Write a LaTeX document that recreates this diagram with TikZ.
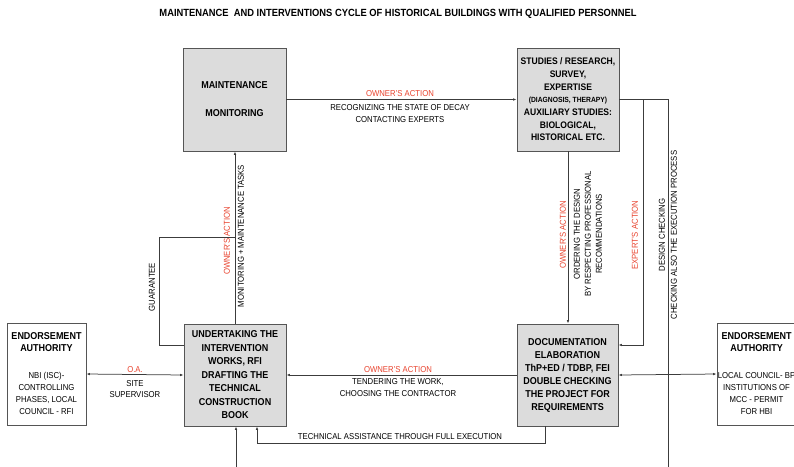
\documentclass[tikz,border=0pt]{standalone}
\usepackage{fontspec}
\setmainfont{Liberation Sans}[FakeStretch=0.9]
\usetikzlibrary{arrows.meta,calc}
\definecolor{boxgray}{HTML}{DCDCDC}
\definecolor{edgegray}{HTML}{555555}
\definecolor{linegray}{HTML}{3C3C3C}
\definecolor{actred}{HTML}{E8432E}
\newcommand\headfont{\bfseries\fontsize{10}{13}\selectfont}
\tikzset{
    >={Latex[length=3.5pt,width=2.6pt]},
    stage/.style={draw=edgegray, fill=boxgray, line width=0.9pt, align=center, inner sep=0pt,
        font=\bfseries\fontsize{10}{13.5}\selectfont},
    authority/.style={draw=edgegray, fill=white, line width=0.9pt, align=center, inner sep=0pt,
        minimum width=79, minimum height=102, font=\fontsize{8.6}{12}\selectfont},
    flow/.style={draw=linegray, line width=0.75pt},
    lbl/.style={inner sep=0pt, align=center, font=\fontsize{8.6}{11.5}\selectfont},
    act/.style={lbl, text=actred}
}
\begin{document}
\begin{tikzpicture}[x=1pt,y=-1pt]
    \useasboundingbox (0,0) rectangle (794,466);
    \node[font=\bfseries\fontsize{10.4}{12}\selectfont] (title) at (398,14)
        {MAINTENANCE\ \ AND INTERVENTIONS CYCLE OF HISTORICAL BUILDINGS WITH QUALIFIED PERSONNEL};
    % stages of the cycle
    \node[stage, minimum width=103, minimum height=103] (maint) at (234.5,99.5)
        {MAINTENANCE\\[14.5pt]MONITORING};
    \node[stage, minimum width=102, minimum height=103, font=\bfseries\fontsize{9.5}{12.7}\selectfont] (studies) at (568,99.5)
        {STUDIES / RESEARCH,\\SURVEY,\\EXPERTISE\\{\fontsize{7.5}{12.7}\selectfont (DIAGNOSIS, THERAPY)}\\AUXILIARY STUDIES:\\BIOLOGICAL,\\HISTORICAL ETC.};
    \node[stage, minimum width=102, minimum height=102] (works) at (235,375)
        {UNDERTAKING THE\\INTERVENTION\\WORKS, RFI\\DRAFTING THE\\TECHNICAL\\CONSTRUCTION\\BOOK};
    \node[stage, minimum width=101, minimum height=102, font=\bfseries\fontsize{10}{13}\selectfont] (docs) at (567.5,375)
        {DOCUMENTATION\\ELABORATION\\ThP+ED / TDBP, FEI\\DOUBLE CHECKING\\THE PROJECT FOR\\REQUIREMENTS};
    % endorsement authorities
    \node[authority] (leftauth) at (46.5,374)
        {{\headfont ENDORSEMENT}\\{\headfont AUTHORITY}\\[15pt]NBI (ISC)-\\CONTROLLING\\PHASES, LOCAL\\COUNCIL - RFI};
    \node[authority] (rightauth) at (756.5,374)
        {{\headfont ENDORSEMENT}\\{\headfont AUTHORITY}\\[15pt]LOCAL COUNCIL- BP\\INSTITUTIONS OF\\MCC - PERMIT\\FOR HBI};
    % free ends and corners
    \coordinate (expcorner) at (643,345);
    \coordinate (chkend) at (668,470);
    \coordinate (guar) at (159,237);
    \coordinate (assist) at (257,443);
    \coordinate (entry) at (236,470);
    % connectors
    \draw[flow,->] (maint.east) -- (studies.west);
    \draw[flow,->] (studies.south) -- (studies.south |- docs.north);
    \draw[flow,->] (studies.east) -| (expcorner) -- (expcorner -| docs.east);
    \draw[flow] (studies.east) -| (chkend);
    \draw[flow,->] (docs.west) -- (works.east);
    \draw[flow,<->] (leftauth.east) -- (works.west);
    \draw[flow,<->] (docs.east) -- (rightauth.west);
    \draw[flow,->] ($(docs.south)+(-22.5,0)$) |- (assist) -- (assist |- works.south);
    \draw[flow,->] (entry) -- (entry |- works.south);
    \draw[flow,->] (works.north) -- (works.north |- maint.south);
    \draw[flow] ($(works.north west)+(0,22)$) -| (guar) -- (guar -| works.north);
    % labels along the connectors
    \node[act] (oa1) at (400,94) {OWNER'S ACTION};
    \node[lbl] (decay) at (400,113.5) {RECOGNIZING THE STATE OF DECAY\\CONTACTING EXPERTS};
    \node[act, rotate=90] (oa2) at (563,235) {OWNER'S ACTION};
    \node[lbl, rotate=90, font=\fontsize{8.6}{11}\selectfont] (order) at (588,234)
        {ORDERING THE DESIGN\\BY RESPECTING PROFESSIONAL\\RECOMMENDATIONS};
    \node[act, rotate=90] (ea) at (635,235) {EXPERT'S ACTION};
    \node[lbl, rotate=90] (dcheck) at (662,235) {DESIGN CHECKING};
    \node[lbl, rotate=90] (echeck) at (674,235) {CHECKING ALSO THE EXECUTION PROCESS};
    \node[act] (oa3) at (398,370) {OWNER'S ACTION};
    \node[lbl] (tender) at (398,387.5) {TENDERING THE WORK,\\CHOOSING THE CONTRACTOR};
    \node[act] (oa4) at (135,370) {O.A.};
    \node[lbl] (super) at (135,389) {SITE\\SUPERVISOR};
    \node[lbl] (assistlbl) at (400,437) {TECHNICAL ASSISTANCE THROUGH FULL EXECUTION};
    \node[act, rotate=90] (oa5) at (227,241) {OWNER'S ACTION};
    \node[lbl, rotate=90] (tasks) at (241,236) {MONITORING + MAINTENANCE TASKS};
    \node[lbl, rotate=90] (guarlbl) at (152,287) {GUARANTEE};
\end{tikzpicture}
\end{document}
